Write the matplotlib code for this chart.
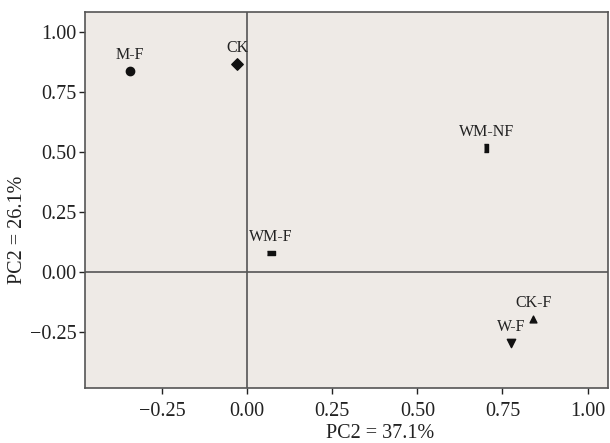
import matplotlib
matplotlib.use("Agg")
import matplotlib.pyplot as plt

# sample scores
names = ["M-F", "CK", "WM-NF", "WM-F", "CK-F", "W-F"]
pc1 = [-0.344, -0.029, 0.703, 0.071, 0.841, 0.776]
pc2 = [0.837, 0.866, 0.515, 0.079, -0.197, -0.297]
markers = ["o", "D", "|", "_", "^", "v"]
sizes = [36, 34, 40, 40, 24, 36]

xticks = [-0.25, 0.00, 0.25, 0.50, 0.75, 1.00]
yticks = [-0.25, 0.00, 0.25, 0.50, 0.75, 1.00]
ticklabels = ["\u22120.25", "0.00", "0.25", "0.50", "0.75", "1.00"]

plt.rcParams['font.family'] = ['Liberation Serif', 'DejaVu Serif']

fig = plt.figure(figsize=(6.1, 4.43), dpi=100)
ax = fig.add_axes([85/610, 55/443, 523/610, 376/443])
ax.set_facecolor('#eeeae6')

for i in range(len(names)):
    m = markers[i]
    if m in ("|", "_"):
        # little filled rectangles
        w, h = (5, 9) if m == "|" else (9, 5)
        ax.scatter(pc1[i], pc2[i], marker=[(-w, -h), (w, -h), (w, h), (-w, h)],
                   s=sizes[i], color='#111111', zorder=3)
    else:
        ax.scatter(pc1[i], pc2[i], marker=m, s=sizes[i], color='#111111', zorder=3)
    ax.annotate(names[i], (pc1[i], pc2[i]), xytext=(0, 6), textcoords='offset points',
                ha='center', va='bottom', fontsize=11.5, color='#222222')

ax.axvline(0, color='#555555', lw=1.2, zorder=1)
ax.axhline(0, color='#555555', lw=1.2, zorder=1)

ax.set_xlim(-0.476, 1.06)
ax.set_ylim(-0.483, 1.083)
ax.set_xticks(xticks)
ax.set_yticks(yticks)
ax.set_xticklabels(ticklabels)
ax.set_yticklabels(ticklabels)
ax.tick_params(labelsize=14.5, colors='#222222', length=4, width=1, direction='out', pad=2)
ax.tick_params(axis='x', pad=6)
for s in ax.spines.values():
    s.set_color('#555555')
    s.set_linewidth(1.2)

ax.set_xlabel("PC2 = 37.1%", fontsize=14.5, color='#222222')
ax.set_ylabel("PC2 = 26.1%", fontsize=14.5, color='#222222')
# labels sit a bit off-centre in the original
ax.xaxis.set_label_coords(0.564, -0.095)
ax.yaxis.set_label_coords(-0.11, 0.42)

fig.savefig("out.png", dpi=100, facecolor='white')
